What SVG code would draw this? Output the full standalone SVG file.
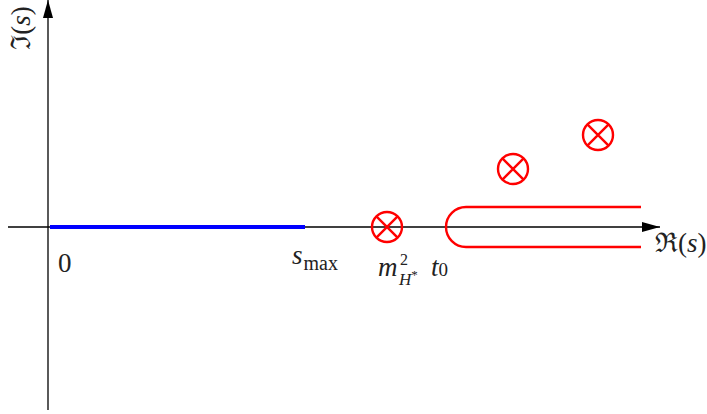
<svg xmlns="http://www.w3.org/2000/svg" width="707" height="414" viewBox="0 0 707 414">
<defs>
<marker id="arr" viewBox="0 0 18 10" refX="18" refY="5" markerWidth="18" markerHeight="10" markerUnits="userSpaceOnUse" orient="auto">
<path d="M0,0 L18,5 L0,10 Z" fill="#000"/>
</marker>
<g id="otimes">
<circle cx="0" cy="0" r="15" fill="none" stroke="#f00" stroke-width="2.4"/>
<path d="M-10.6,-10.6 L10.6,10.6 M-10.6,10.6 L10.6,-10.6" stroke="#f00" stroke-width="2.4"/>
</g>
</defs>
<style>
.ax{stroke:#000;stroke-width:1.3;fill:none}
.m{font-family:"Liberation Serif","DejaVu Serif",serif;font-style:italic;fill:#222}
.r{font-family:"Liberation Serif","DejaVu Serif",serif;fill:#222}
</style>
<rect width="707" height="414" fill="#fff"/>
<g id="connectors">
<line class="ax" x1="8" y1="227" x2="660" y2="227" marker-end="url(#arr)"/>
<line class="ax" x1="48" y1="410" x2="48" y2="0" marker-end="url(#arr)"/>
<line x1="50" y1="227" x2="305" y2="227" stroke="#00f" stroke-width="4"/>
<path d="M641,207 L466,207 A20,20 0 0 0 466,247 L641,247" fill="none" stroke="#f00" stroke-width="2.4"/>
</g>
<g id="pole1"><use href="#otimes" x="387" y="227"/></g>
<g id="pole2"><use href="#otimes" x="513" y="169"/></g>
<g id="pole3"><use href="#otimes" x="598" y="135"/></g>
<g id="labels">
<text class="r" x="58" y="272" font-size="27">0</text>
<text x="292" y="264" font-size="27"><tspan class="m">s</tspan><tspan class="r" font-size="20" dx="1" dy="6">max</tspan></text>
<text x="378" y="276" font-size="27"><tspan class="m">m</tspan></text>
<text class="r" x="400" y="265" font-size="16">2</text>
<text x="399" y="285" font-size="17"><tspan class="m">H</tspan><tspan class="r" font-size="13" dy="-6">*</tspan></text>
<text x="431" y="276" font-size="27"><tspan class="m">t</tspan><tspan class="r" font-size="19" dy="0">0</tspan></text>
<text x="655" y="252" font-size="27" class="r">ℜ(<tspan class="m">s</tspan>)</text>
<text transform="translate(30,28) rotate(-90)" text-anchor="middle" font-size="27" class="r">ℑ(<tspan class="m">s</tspan>)</text>
</g>
</svg>
